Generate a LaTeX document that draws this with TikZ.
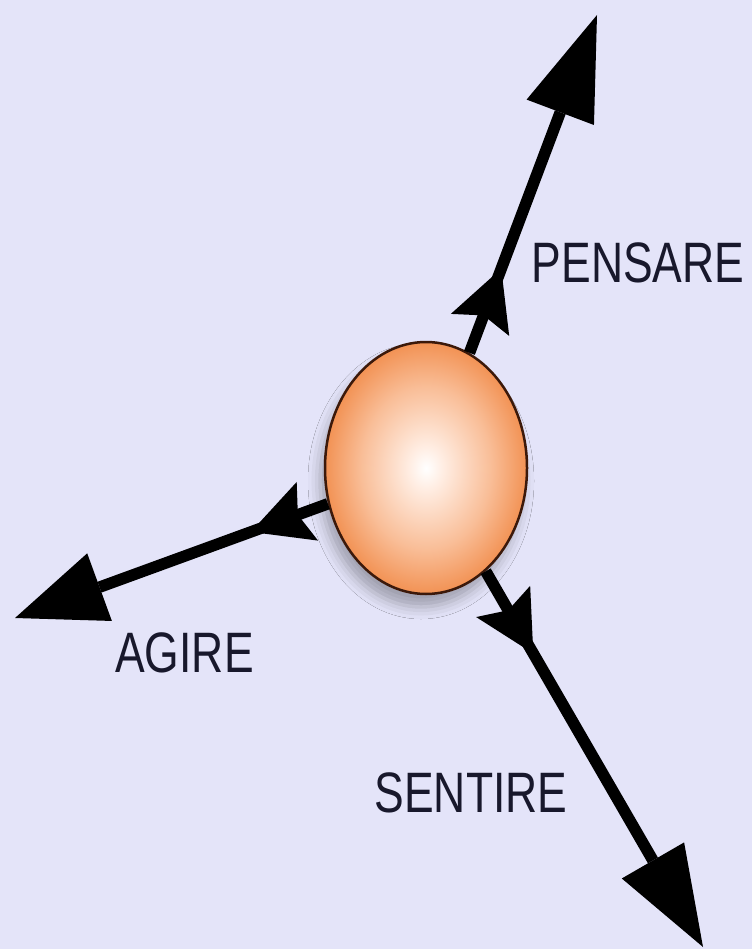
\documentclass[tikz,border=0pt]{standalone}
\usepackage{fontspec}
\setmainfont{Liberation Sans}
\usetikzlibrary{arrows.meta,decorations.markings,shapes.geometric,shadows.blur}
\definecolor{bg}{RGB}{228,228,249}
\definecolor{ink}{RGB}{24,24,44}
\definecolor{ballout}{RGB}{242,146,84}
\definecolor{ballmid}{RGB}{249,190,152}
\definecolor{ballin}{RGB}{255,238,228}
\definecolor{rim}{RGB}{60,25,10}
\pgfdeclareradialshading{ballshade}{\pgfpoint{0bp}{0bp}}{%
  color(0bp)=(white); color(4bp)=(ballin); color(16bp)=(ballmid);
  color(25bp)=(ballout); color(50bp)=(ballout)}
\tikzset{
  ballstyle/.style={ellipse, draw=rim, line width=2.5pt, shading=ballshade,
    minimum width=202pt, minimum height=252pt, inner sep=0pt,
    blur shadow={shadow xshift=-5pt, shadow yshift=-13pt, shadow blur radius=12pt, shadow opacity=30}},
  arrowline/.style={draw=black, line width=11.5pt, line cap=butt},
  bighead/.style={-{Triangle[length=#1,width=72pt,line width=0pt]}},
  midbarb/.style={postaction={decorate}, decoration={markings,
    mark=at position #1 with {\arrow{Stealth[length=60pt,width=62pt,inset=10pt,line width=2.5pt]}}}},
  lbl/.style={text=ink, inner sep=0pt, anchor=base, font=\fontsize{57}{60}\selectfont}
}
\begin{document}
\begin{tikzpicture}[x=1pt,y=-1pt]
\fill[bg] (0,0) rectangle (752,949);
\useasboundingbox (0,0) rectangle (752,949);
\node[ballstyle] (ball) at (426,468) {};
\coordinate (tipU) at (597,15);
\coordinate (tipL) at (15,618);
\coordinate (tipD) at (703,947);
\draw[arrowline, bighead=104pt, midbarb=90pt] (ball) -- (tipU);
\draw[arrowline, bighead=90pt, midbarb=82pt] (ball) -- (tipL);
\draw[arrowline, bighead=100pt, midbarb=95pt] (ball) -- (tipD);
\node[lbl] (pens) at (638,283) {\scalebox{0.78}[1]{PENSARE}};
\node[lbl] (agire) at (184.5,672) {\scalebox{0.78}[1]{AGIRE}};
\node[lbl] (sent) at (471,812) {\scalebox{0.78}[1]{SENTIRE}};
\end{tikzpicture}
\end{document}
